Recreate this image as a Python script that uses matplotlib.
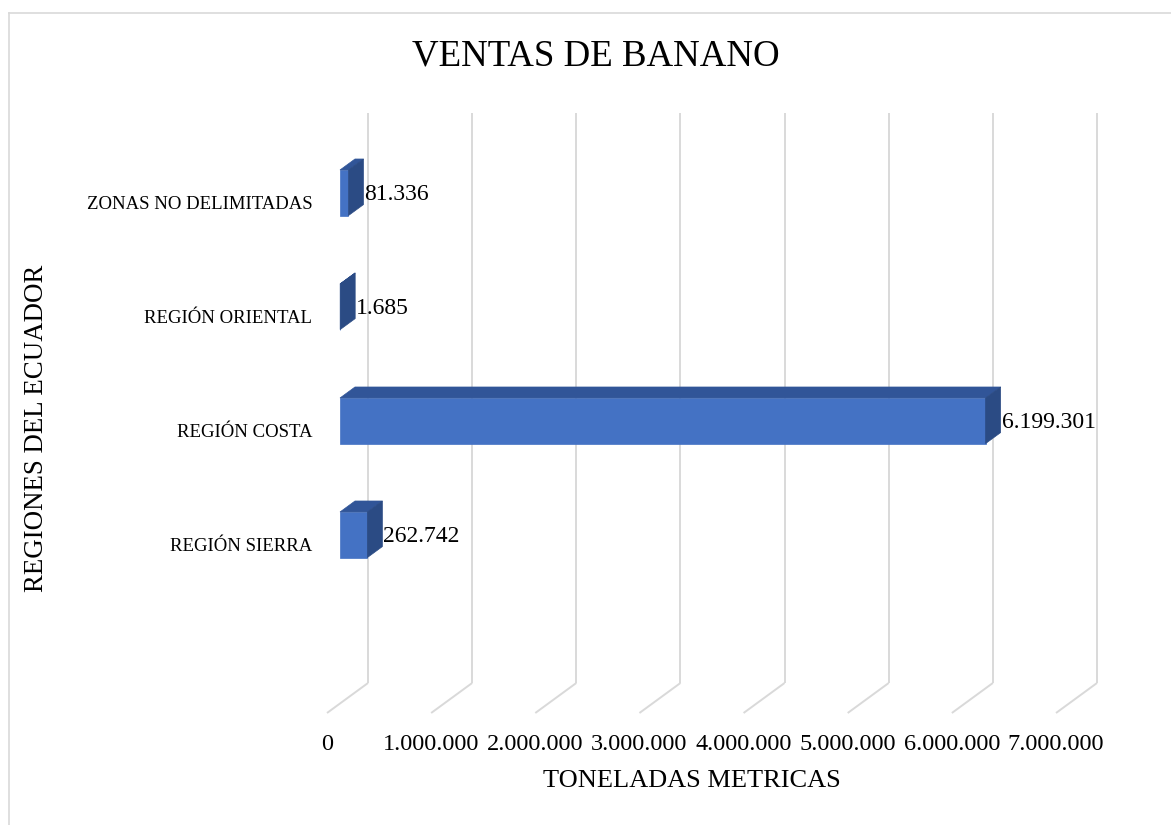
import matplotlib
matplotlib.use("Agg")
import matplotlib.pyplot as plt
from matplotlib.patches import Polygon
from matplotlib.lines import Line2D

categories = ["REGIÓN SIERRA", "REGIÓN COSTA", "REGIÓN ORIENTAL", "ZONAS NO DELIMITADAS"]
values = [262742, 6199301, 1685, 81336]
xticks = [0, 1000000, 2000000, 3000000, 4000000, 5000000, 6000000, 7000000]
xtick_labels = ["0", "1.000.000", "2.000.000", "3.000.000", "4.000.000", "5.000.000", "6.000.000", "7.000.000"]
title = "VENTAS DE BANANO"
xlabel = "TONELADAS METRICAS"
ylabel = "REGIONES DEL ECUADOR"

plt.rcParams['font.family'] = ['Liberation Serif', 'DejaVu Serif']

W, H = 1171, 825
fig = plt.figure(figsize=(W / 100, H / 100), dpi=100)
fig.patch.set_facecolor("white")

ax_left, ax_right, ax_bottom, ax_top = 327, 1056, 713, 143  # pixels (from top)
ax = fig.add_axes([ax_left / W, (H - ax_bottom) / H, (ax_right - ax_left) / W, (ax_bottom - ax_top) / H])
ax.set_xlim(0, 7000000)
ax.set_ylim(-1.48, 3.52)
for s in ax.spines.values():
    s.set_visible(False)
ax.set_facecolor("none")

# depth offsets (data units) from pixel offsets
xpp = 7000000 / (ax_right - ax_left)
ypp = 5.0 / (ax_bottom - ax_top)
DX = 41 * xpp
DY = 30 * ypp
y0, y1 = ax.get_ylim()
wall_top = y1 + DY

grid_c = "#D9D9D9"
for t in xticks:
    ax.plot([t, t + DX], [y0, y0 + DY], color=grid_c, lw=1.4, clip_on=False, zorder=1, solid_capstyle="butt")
    ax.plot([t + DX, t + DX], [y0 + DY, wall_top], color=grid_c, lw=1.4, clip_on=False, zorder=1, solid_capstyle="butt")

front_c = "#4472C4"
top_c = "#315598"
side_c = "#2B4B84"
f0 = 0.317
f1 = 0.683
hh = 0.2
for i, v in enumerate(values):
    xf0 = f0 * DX
    xf1 = v + f0 * DX
    yb = i - hh + f0 * DY
    yt = i + hh + f0 * DY
    ddx = (f1 - f0) * DX
    ddy = (f1 - f0) * DY
    front = Polygon([(xf0, yb), (xf1, yb), (xf1, yt), (xf0, yt)], closed=True,
                    facecolor=front_c, edgecolor=front_c, lw=0.5, clip_on=False, zorder=3)
    top = Polygon([(xf0, yt), (xf1, yt), (xf1 + ddx, yt + ddy), (xf0 + ddx, yt + ddy)], closed=True,
                  facecolor=top_c, edgecolor=top_c, lw=0.5, clip_on=False, zorder=3)
    side = Polygon([(xf1, yb), (xf1, yt), (xf1 + ddx, yt + ddy), (xf1 + ddx, yb + ddy)], closed=True,
                   facecolor=side_c, edgecolor=side_c, lw=0.5, clip_on=False, zorder=3)
    for p in (front, top, side):
        ax.add_patch(p)
    lab = f"{v:,}".replace(",", ".")
    ax.text(v + f1 * DX + 1 * xpp, i + f0 * DY - 2 * ypp, lab, ha="left", va="center",
            fontsize=17, color="#000000", zorder=4, clip_on=False)

ax.set_xticks(xticks)
ax.set_xticklabels(xtick_labels, fontsize=17.5)
ax.set_yticks(range(len(categories)))
ax.set_yticklabels(categories, fontsize=13.5)
ax.tick_params(axis="x", length=0, pad=15)
ax.tick_params(axis="y", length=0, pad=10.5)

ax.set_xlabel(xlabel, fontsize=19)
ax.xaxis.set_label_coords(0.5, (ax_bottom - 781) / (ax_bottom - ax_top))
ax.xaxis.label.set_va("center")
ax.set_ylabel(ylabel, fontsize=19.4)
ax.yaxis.set_label_coords((37 - ax_left) / (ax_right - ax_left), 0.5)
ax.yaxis.label.set_va("center")

fig.text(596 / W, 1 - 56 / H, title, ha="center", va="center", fontsize=26.6)

# outer frame (partially visible)
fig.add_artist(Line2D([8.5 / W, 1.0], [1 - 12.5 / H, 1 - 12.5 / H], color=grid_c, lw=1.2, transform=fig.transFigure))
fig.add_artist(Line2D([8.5 / W, 8.5 / W], [0.0, 1 - 12.5 / H], color=grid_c, lw=1.2, transform=fig.transFigure))

fig.savefig("out.png", dpi=100, facecolor="white")
